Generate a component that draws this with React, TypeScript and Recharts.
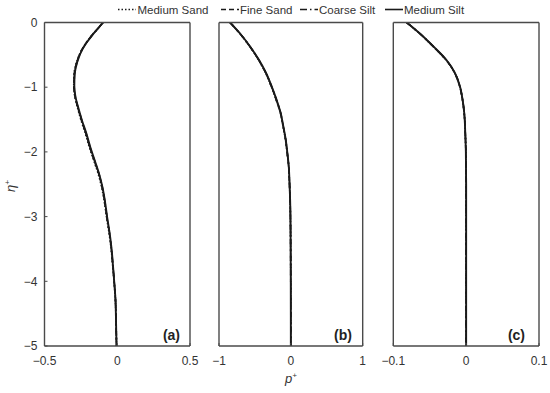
import React from 'react';
import { LineChart, Line, XAxis, YAxis } from 'recharts';

// ---------- data ----------
const seriesNames = ['Medium Sand', 'Fine Sand', 'Coarse Silt', 'Medium Silt'];
const yTicks = [0, -1, -2, -3, -4, -5];
const xTicksA = [-0.5, 0, 0.5];
const xTicksB = [-1, 0, 1];
const xTicksC = [-0.1, 0, 0.1];
const panelLabels = ['(a)', '(b)', '(c)'];

// panel (a)
const etaA = [0, -0.1, -0.19, -0.4, -0.61, -0.81, -0.98, -1.15, -1.3, -1.51, -1.71, -1.92, -2.13, -2.33, -2.54, -2.74, -3.0, -3.26, -3.52, -3.77, -4.03, -4.29, -4.55, -5.0];
const mediumSandA = [-0.098, -0.136, -0.172, -0.239, -0.279, -0.297, -0.299, -0.291, -0.275, -0.249, -0.22, -0.193, -0.162, -0.132, -0.108, -0.091, -0.074, -0.056, -0.041, -0.031, -0.021, -0.013, -0.009, -0.005];
const fineSandA = [-0.098, -0.136, -0.171, -0.238, -0.278, -0.296, -0.298, -0.29, -0.273, -0.246, -0.217, -0.19, -0.159, -0.129, -0.105, -0.089, -0.072, -0.054, -0.04, -0.03, -0.02, -0.012, -0.009, -0.005];
const coarseSiltA = [-0.098, -0.135, -0.17, -0.237, -0.276, -0.294, -0.296, -0.288, -0.271, -0.244, -0.215, -0.188, -0.157, -0.127, -0.103, -0.087, -0.071, -0.053, -0.039, -0.029, -0.02, -0.012, -0.009, -0.005];
const mediumSiltA = [-0.098, -0.135, -0.17, -0.236, -0.275, -0.293, -0.295, -0.287, -0.27, -0.243, -0.213, -0.186, -0.155, -0.126, -0.102, -0.086, -0.07, -0.052, -0.038, -0.029, -0.02, -0.012, -0.009, -0.005];

// panel (b)
const etaB = [0, -0.17, -0.37, -0.58, -0.78, -0.99, -1.2, -1.4, -1.61, -1.81, -2.02, -2.22, -2.43, -2.74, -3.2, -4.0, -5.0];
const mediumSandB = [-0.846, -0.71, -0.573, -0.449, -0.351, -0.272, -0.203, -0.146, -0.108, -0.075, -0.051, -0.031, -0.021, -0.011, -0.004, -0.001, 0];
const fineSandB = [-0.846, -0.709, -0.571, -0.447, -0.349, -0.27, -0.201, -0.144, -0.106, -0.073, -0.05, -0.03, -0.021, -0.01, -0.004, -0.001, 0];
const coarseSiltB = [-0.846, -0.708, -0.569, -0.445, -0.347, -0.268, -0.199, -0.142, -0.105, -0.072, -0.049, -0.029, -0.02, -0.01, -0.004, -0.001, 0];
const mediumSiltB = [-0.846, -0.707, -0.568, -0.443, -0.345, -0.266, -0.197, -0.141, -0.104, -0.071, -0.048, -0.029, -0.02, -0.01, -0.004, -0.001, 0];

// panel (c)
const etaC = [0, -0.17, -0.37, -0.58, -0.78, -0.99, -1.2, -1.4, -1.71, -2.0, -2.5, -3.5, -5.0];
const mediumSandC = [-0.0817, -0.0638, -0.0455, -0.0276, -0.0158, -0.0088, -0.005, -0.0027, -0.0012, -0.0004, 0, 0, 0];
const fineSandC = [-0.0817, -0.0637, -0.0453, -0.0274, -0.0156, -0.0087, -0.0049, -0.0027, -0.0012, -0.0004, 0, 0, 0];
const coarseSiltC = [-0.0817, -0.0636, -0.0451, -0.0272, -0.0155, -0.0086, -0.0048, -0.0026, -0.0012, -0.0004, 0, 0, 0];
const mediumSiltC = [-0.0817, -0.0635, -0.045, -0.027, -0.0154, -0.0085, -0.0048, -0.0026, -0.0012, -0.0004, 0, 0, 0];

// ---------- helpers ----------
const keys = ['ms', 'fs', 'cs', 'msi'];
const dashes = ['1.5 2', '5 3', '7 3 1.5 3', undefined];
const widths = [1.6, 1.6, 1.6, 1.9];
const FONT = '"Liberation Sans", Arial, Helvetica, sans-serif';
const AX = '#4a4a4a';

const build = (eta: number[], s: number[][]) =>
  eta.map((e, i) => ({ eta: e, ms: s[0][i], fs: s[1][i], cs: s[2][i], msi: s[3][i] }));

const dataA = build(etaA, [mediumSandA, fineSandA, coarseSiltA, mediumSiltA]);
const dataB = build(etaB, [mediumSandB, fineSandB, coarseSiltB, mediumSiltB]);
const dataC = build(etaC, [mediumSandC, fineSandC, coarseSiltC, mediumSiltC]);

const fmt = (v: number) => {
  const s = String(Math.abs(v));
  return v < 0 ? '\u2212' + s : s;
};

type PanelProps = {
  left: number;
  width: number;
  yWidth: number;
  showY: boolean;
  domain: [number, number];
  ticks: number[];
  data: any[];
};

const Panel = ({ left, width, yWidth, showY, domain, ticks, data }: PanelProps) => (
  <div style={{ position: 'absolute', left, top: 0 }}>
    <LineChart
      width={width}
      height={393}
      data={data}
      layout="vertical"
      margin={{ top: 21.5, right: 10, bottom: 17, left: 0 }}
    >
      <XAxis
        type="number"
        domain={domain}
        ticks={ticks}
        interval={0}
        height={30}
        tickFormatter={fmt}
        tickSize={-3}
        tickMargin={13.5}
        axisLine={{ stroke: AX, strokeWidth: 1.4 }}
        tickLine={{ stroke: AX }}
        tick={{ fill: '#333', fontSize: 12, fontFamily: FONT }}
        allowDataOverflow
      />
      <XAxis
        xAxisId="t"
        orientation="top"
        type="number"
        domain={domain}
        ticks={ticks}
        interval={0}
        height={1}
        tickSize={-3}
        tick={false}
        axisLine={{ stroke: AX, strokeWidth: 1.4 }}
        tickLine={{ stroke: AX }}
        allowDataOverflow
      />
      <YAxis
        type="number"
        dataKey="eta"
        domain={[-5, 0]}
        ticks={yTicks}
        interval={0}
        reversed
        width={yWidth}
        tickFormatter={fmt}
        tickSize={-3}
        tickMargin={10}
        axisLine={{ stroke: AX, strokeWidth: 1.4 }}
        tickLine={{ stroke: AX }}
        tick={showY ? { fill: '#333', fontSize: 12, fontFamily: FONT } : false}
        allowDataOverflow
      />
      <YAxis
        yAxisId="r"
        orientation="right"
        type="number"
        domain={[-5, 0]}
        ticks={yTicks}
        interval={0}
        reversed
        width={1}
        tickSize={-3}
        tick={false}
        axisLine={{ stroke: AX, strokeWidth: 1.4 }}
        tickLine={{ stroke: AX }}
        allowDataOverflow
      />
      {keys.map((k, i) => (
        <Line
          key={k}
          dataKey={k}
          name={seriesNames[i]}
          type="monotone"
          stroke="#1a1a1a"
          strokeWidth={widths[i]}
          strokeDasharray={dashes[i]}
          dot={false}
          isAnimationActive={false}
        />
      ))}
    </LineChart>
  </div>
);

const legendPos = [
  { x1: 118, x2: 136, tx: 137.5 },
  { x1: 221, x2: 239, tx: 240 },
  { x1: 300, x2: 318, tx: 319 },
  { x1: 385, x2: 403, tx: 404 },
];

const labelPos = [
  { x: 180, y: 340 },
  { x: 352, y: 340 },
  { x: 525, y: 340 },
];

export default function App() {
  return (
    <div style={{ position: 'absolute', left: 0, top: 0, width: 550, height: 393, background: '#fff', overflow: 'hidden' }}>
      <Panel left={0} width={201} yWidth={44.5} showY domain={[-0.5, 0.5]} ticks={xTicksA} data={dataA} />
      <Panel left={200} width={173.7} yWidth={19} showY={false} domain={[-1, 1]} ticks={xTicksB} data={dataB} />
      <Panel left={375} width={175} yWidth={18.3} showY={false} domain={[-0.1, 0.1]} ticks={xTicksC} data={dataC} />
      <svg width={550} height={393} style={{ position: 'absolute', left: 0, top: 0, pointerEvents: 'none' }}>
        {seriesNames.map((n, i) => (
          <g key={n}>
            <line
              x1={legendPos[i].x1}
              x2={legendPos[i].x2}
              y1={9.5}
              y2={9.5}
              stroke="#1a1a1a"
              strokeWidth={1.6}
              strokeDasharray={dashes[i]}
            />
            <text x={legendPos[i].tx} y={13.5} fontSize={11.5} fontFamily={FONT} fill="#333">
              {n}
            </text>
          </g>
        ))}
        {panelLabels.map((l, i) => (
          <text key={l} x={labelPos[i].x} y={labelPos[i].y} textAnchor="end" fontSize={14} fontWeight="bold" fontFamily={FONT} fill="#222">
            {l}
          </text>
        ))}
        <text x={291} y={383} textAnchor="middle" fontSize={13} fontFamily={FONT} fill="#333" fontStyle="italic">
          p<tspan fontSize={8} dy={-5}>+</tspan>
        </text>
        <text
          x={0}
          y={0}
          transform="translate(15 186) rotate(-90)"
          textAnchor="middle"
          fontSize={13}
          fontFamily={FONT}
          fill="#333"
          fontStyle="italic"
        >
          {'\u03B7'}<tspan fontSize={8} dy={-5}>+</tspan>
        </text>
      </svg>
    </div>
  );
}
